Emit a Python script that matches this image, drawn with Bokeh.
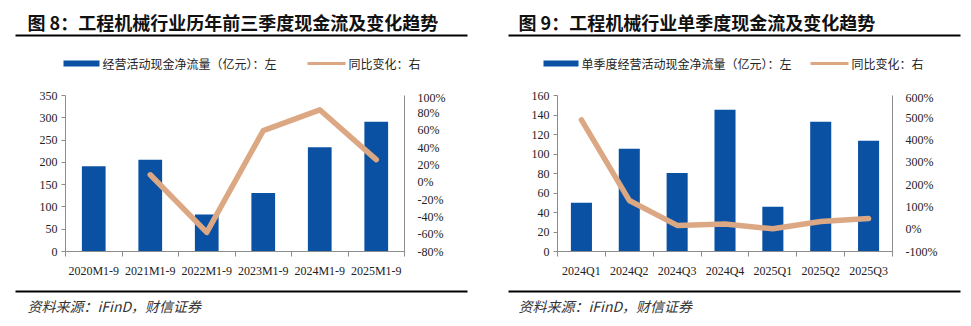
from bokeh.plotting import figure
from bokeh.models import Range1d, LinearAxis, FixedTicker, Plot
from bokeh.layouts import row, column
from bokeh.core.properties import value
from bokeh.embed import file_html
from bokeh.resources import INLINE
import numpy as np

# ---------------- data ----------------
title1 = "图 8：工程机械行业历年前三季度现金流及变化趋势"
cats1 = ["2020M1-9", "2021M1-9", "2022M1-9", "2023M1-9", "2024M1-9", "2025M1-9"]
cash1 = [191, 206, 83, 131, 234, 291]
yoy1 = [None, 8.5, -58, 59.5, 83.5, 26]
legend1_bar = "经营活动现金净流量（亿元）：左"
legend1_line = "同比变化：右"

title2 = "图 9：工程机械行业单季度现金流及变化趋势"
cats2 = ["2024Q1", "2024Q2", "2024Q3", "2024Q4", "2025Q1", "2025Q2", "2025Q3"]
cash2 = [50, 105.5, 80.5, 145.5, 46, 133, 113.5]
yoy2 = [491, 129, 17, 23, 2, 35, 48]
legend2_bar = "单季度经营活动现金净流量（亿元）：左"
legend2_line = "同比变化：右"

source_text = "资料来源：iFinD，财信证券"

BLUE = "#0B51A3"
TAN = "#DCA884"
AXIS = "#8C8C8C"
SERIF = "Liberation Serif"
CJK = "Noto Sans CJK SC"

HEAD_H = 90
FOOT_H = 42
TOTAL_H = 326
CHART_H = TOTAL_H - HEAD_H - FOOT_H

HAS_FA = "frame_align" in Plot.properties()


def canvas_fig(width, height):
    kw = {}
    if HAS_FA:
        kw["frame_align"] = False
    f = figure(width=width, height=height, output_backend="svg", toolbar_location=None,
               x_range=Range1d(0, width), y_range=Range1d(height, 0),
               min_border=0, x_axis_location=None, y_axis_location=None, **kw)
    f.outline_line_color = None
    f.xgrid.grid_line_color = None
    f.ygrid.grid_line_color = None
    return f


def panel(width, cats, cash, yoy, lrange, lstep, rrange, rstep, frame_left, frame_right,
          title, title_x, rule_l, rule_r, leg_bar_x, leg_bar_w, leg_txt1, leg_line_x, leg_txt2,
          bar_w):
    # ---------- header: title, rule, legend ----------
    h = canvas_fig(width, HEAD_H)
    h.text(x=[title_x], y=[21], text=[title], text_font=value(CJK), text_font_style="bold",
           text_font_size="18px", text_baseline="middle", text_color="#111111")
    h.segment(x0=[rule_l], x1=[rule_r], y0=[35], y1=[35], line_color="black", line_width=2.2)
    h.segment(x0=[leg_bar_x], x1=[leg_bar_x + leg_bar_w], y0=[63], y1=[63],
              line_color=BLUE, line_width=6)
    h.text(x=[leg_bar_x + leg_bar_w + 3], y=[63], text=[leg_txt1], text_font=value(CJK),
           text_font_size="12px", text_baseline="middle", text_color="#222222")
    h.segment(x0=[leg_line_x], x1=[leg_line_x + 38], y0=[63], y1=[63],
              line_color=TAN, line_width=3)
    h.text(x=[leg_line_x + 41], y=[63], text=[leg_txt2], text_font=value(CJK),
           text_font_size="12px", text_baseline="middle", text_color="#222222")

    # ---------- chart ----------
    frame_top = 95 - HEAD_H
    frame_bottom = 251 - HEAD_H
    kw = {}
    if HAS_FA:
        kw["frame_align"] = False
    p = figure(width=width, height=CHART_H, output_backend="svg", toolbar_location=None,
               x_range=Range1d(0, len(cats)), y_range=Range1d(*lrange),
               min_border_left=frame_left, min_border_right=width - frame_right,
               min_border_top=frame_top, min_border_bottom=CHART_H - frame_bottom,
               x_axis_location=None, y_axis_location=None, **kw)
    p.outline_line_color = None
    p.xgrid.grid_line_color = None
    p.ygrid.grid_line_color = None

    n = len(cats)
    xs = np.arange(n) + 0.5
    p.vbar(x=xs, top=cash, width=bar_w, color=BLUE, line_color=None)

    p.extra_y_ranges = {"r": Range1d(*rrange)}
    lx = [x for x, v in zip(xs, yoy) if v is not None]
    ly = [v for v in yoy if v is not None]
    p.line(x=lx, y=ly, y_range_name="r", line_color=TAN, line_width=5.5,
           line_join="round", line_cap="round")

    xa = LinearAxis(ticker=FixedTicker(ticks=list(xs), minor_ticks=list(range(n + 1))))
    xa.major_label_overrides = {float(x): c for x, c in zip(xs, cats)}
    xa.major_tick_line_color = None
    xa.minor_tick_line_color = AXIS
    xa.minor_tick_out = 5
    xa.minor_tick_in = 0
    xa.axis_line_color = AXIS
    xa.major_label_text_font = SERIF
    xa.major_label_text_font_size = "12px"
    xa.major_label_text_color = "#222222"
    xa.major_label_standoff = 6
    p.add_layout(xa, "below")

    ya = LinearAxis(ticker=FixedTicker(ticks=list(np.arange(lrange[0], lrange[1] + 0.1, lstep))))
    ya.axis_line_color = AXIS
    ya.major_tick_line_color = AXIS
    ya.major_tick_out = 4
    ya.major_tick_in = 0
    ya.minor_tick_line_color = None
    ya.major_label_text_font = SERIF
    ya.major_label_text_font_size = "12px"
    ya.major_label_text_color = "#222222"
    ya.major_label_standoff = 4
    p.add_layout(ya, "left")

    rticks = list(np.arange(rrange[0], rrange[1] + 0.1, rstep))
    ra = LinearAxis(y_range_name="r", ticker=FixedTicker(ticks=rticks))
    ra.major_label_overrides = {float(t): f"{int(t)}%" for t in rticks}
    ra.axis_line_color = AXIS
    ra.major_tick_line_color = None
    ra.minor_tick_line_color = None
    ra.major_label_text_font = SERIF
    ra.major_label_text_font_size = "12px"
    ra.major_label_text_color = "#222222"
    ra.major_label_standoff = 7
    p.add_layout(ra, "right")

    # ---------- footer: rule and source ----------
    f = canvas_fig(width, FOOT_H)
    f.segment(x0=[rule_l], x1=[rule_r], y0=[291 - HEAD_H - CHART_H], y1=[291 - HEAD_H - CHART_H],
              line_color="black", line_width=2.2)
    f.text(x=[title_x], y=[305 - HEAD_H - CHART_H], text=[source_text], text_font=value(CJK),
           text_font_style="italic", text_font_size="14px", text_baseline="middle",
           text_color="#333333")

    return column(h, p, f, spacing=0)


p1 = panel(485, cats1, cash1, yoy1, (0, 350), 50, (-80, 100), 20, 65, 404,
           title1, 27, 15, 467, 63, 36, legend1_bar, 307, legend1_line, 0.42)
p2 = panel(486, cats2, cash2, yoy2, (0, 160), 20, (-100, 600), 100, 72, 407,
           title2, 33, 23, 475, 58, 35, legend2_bar, 325, legend2_line, 0.44)

layout = row(p1, p2, spacing=0)
open("out.html", "w").write(file_html(layout, INLINE))
